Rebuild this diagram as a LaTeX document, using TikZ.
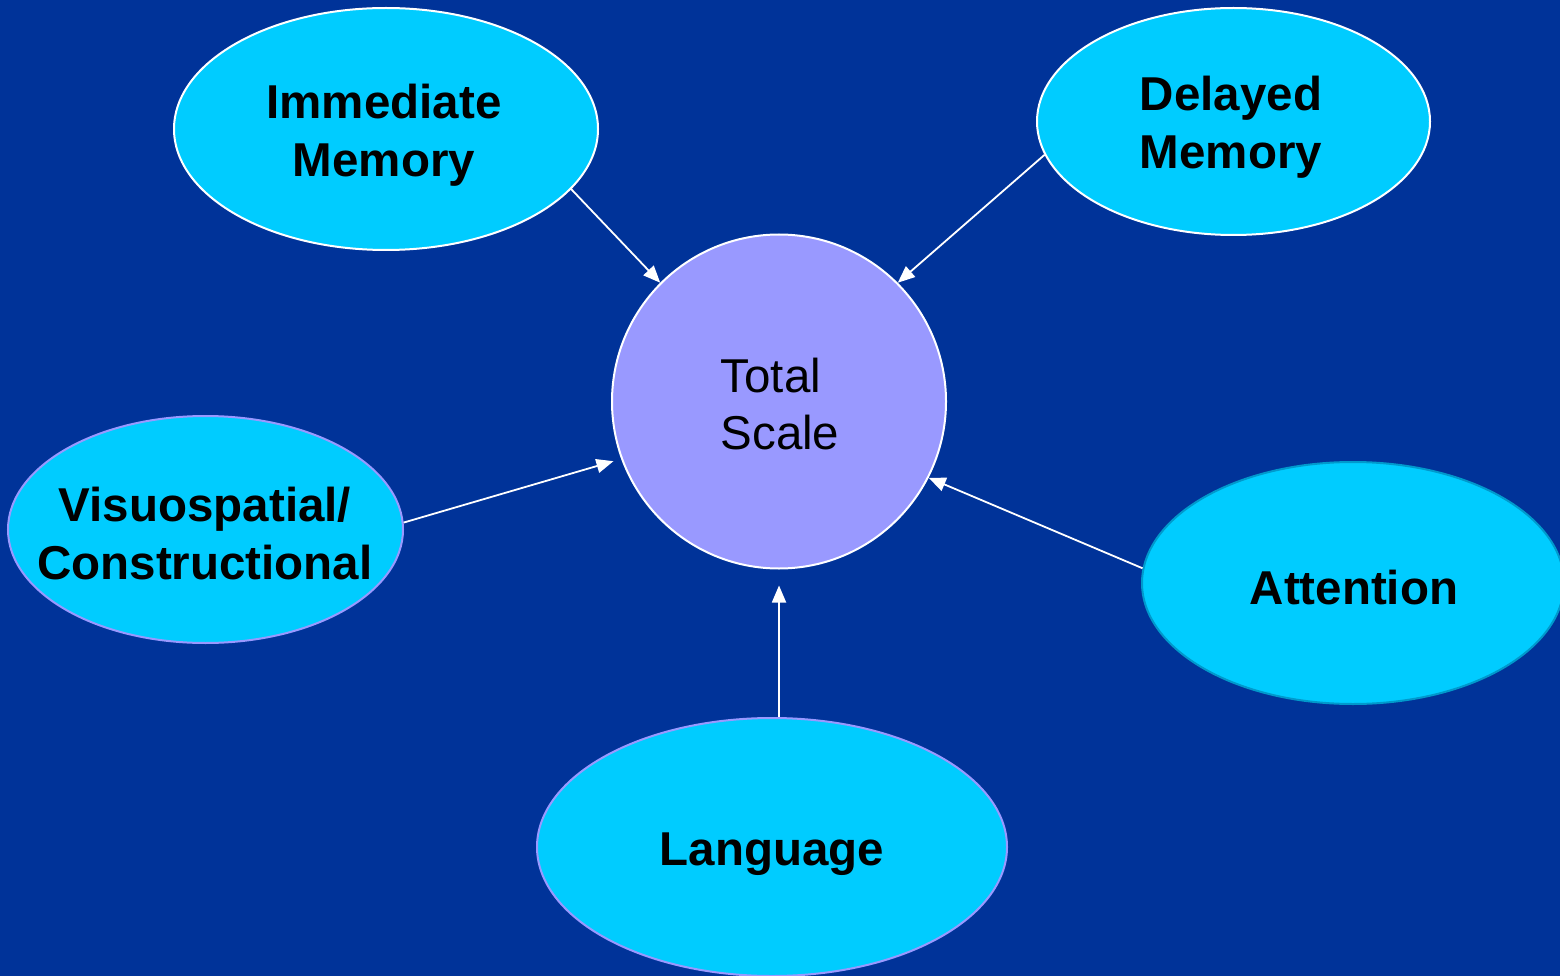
\documentclass[tikz,border=0pt]{standalone}
\usepackage{fontspec}
\setmainfont{Liberation Sans}
\usetikzlibrary{shapes.geometric,arrows.meta}
\definecolor{bgblue}{HTML}{003399}
\definecolor{cyanfill}{HTML}{00CCFF}
\definecolor{lav}{HTML}{9999FF}
\definecolor{tealedge}{HTML}{0099CC}
\tikzset{
  oval/.style={ellipse, fill=cyanfill, line width=2pt, inner sep=0pt},
  lbl/.style={inner sep=0pt, align=center, font=\fontsize{47.5}{58}\selectfont\bfseries, text=black},
  arr/.style={draw=white, line width=1.8pt, -{Triangle[length=17pt,width=14pt]}},
}
\begin{document}
\begin{tikzpicture}[x=1pt,y=-1pt]
\useasboundingbox (0,0) rectangle (1560,976);
\fill[bgblue] (0,0) rectangle (1560,976);

\node[oval, draw=white, minimum width=424pt, minimum height=242pt] (im) at (386,129) {};
\node[oval, draw=white, minimum width=393pt, minimum height=227pt] (dm) at (1233.5,121.5) {};
\node[oval, draw=lav, minimum width=395pt, minimum height=227pt] (vs) at (205.5,529.5) {};
\node[oval, draw=tealedge, minimum width=422pt, minimum height=242pt] (at) at (1353,583) {};
\node[oval, draw=lav, minimum width=470pt, minimum height=258pt] (lg) at (772,847) {};
\node[circle, fill=lav, draw=white, line width=2pt, minimum size=334pt, inner sep=0pt] (ts) at (779,401.5) {};

\node[lbl] (imt) at (384,135) {Immediate\\Memory};
\node[lbl] (dmt) at (1231,127) {Delayed\\Memory};
\node[lbl] (vst) at (205,534) {Visuospatial/\\Constructional};
\node[lbl] (att) at (1354,588) {Attention};
\node[lbl] (lgt) at (772,854) {Language};
\node[inner sep=0pt, align=left, font=\fontsize{47.5}{57}\selectfont, text=black] (tst) at (780,404) {Total\\Scale};

\draw[arr] (im.-18.5) -- (ts.135);
\draw[arr] (dm.190.7) -- (ts.45);
\draw[arr, shorten >=8pt] (vs.2.2) -- (ts.200);
\draw[arr] (at.176) -- (ts.-27);
\draw[arr, shorten >=16pt] (ts.south |- lg.north) -- (ts.south);
\end{tikzpicture}
\end{document}
